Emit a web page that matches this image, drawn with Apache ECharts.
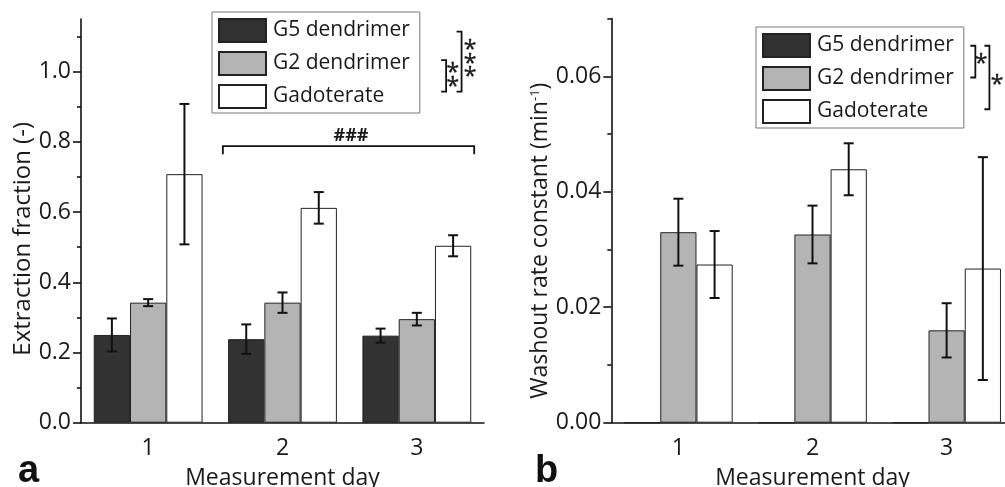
<!DOCTYPE html>
<html><head><meta charset="utf-8">
<script src="https://cdn.jsdelivr.net/npm/echarts@6/dist/echarts.min.js"></script>
<style>html,body{margin:0;padding:0;background:#fff}#c{width:1005px;height:487px}</style>
</head><body><div id="c"></div>
<script>
// ---------- data ----------
const days = ['1', '2', '3'];
const seriesNames = ['G5 dendrimer', 'G2 dendrimer', 'Gadoterate'];
// Panel a: extraction fraction (-)
const efG5 = [0.250, 0.238, 0.248];
const efG5Err = [0.047, 0.042, 0.020];
const efG2 = [0.342, 0.342, 0.295];
const efG2Err = [0.010, 0.029, 0.018];
const efGado = [0.708, 0.612, 0.504];
const efGadoErr = [0.200, 0.045, 0.030];
// Panel b: washout rate constant (min^-1)
const wrG5 = [0, 0, 0];
const wrG2 = [0.0330, 0.0326, 0.0160];
const wrG2Err = [0.0058, 0.0050, 0.0047];
const wrGado = [0.0274, 0.0439, 0.0267];
const wrGadoErr = [0.0058, 0.0045, 0.0193];
// tick values
const efTicks = [0, 0.2, 0.4, 0.6, 0.8, 1.0];
const efMinor = [0.1, 0.3, 0.5, 0.7, 0.9, 1.1];
const wrTicks = [0, 0.02, 0.04, 0.06];
const wrMinor = [0.01, 0.03, 0.05, 0.07];

// ---------- style ----------
const FONT = 'Open Sans';
const TXT = '#1a1a1a';
const colors = ['#323232', '#b4b4b4', '#ffffff'];
const BARGAP = '19%';
const BARFRAC = 0.81 / 3;

const chart = echarts.init(document.getElementById('c'), null, {renderer: 'canvas'});

function errRender(pos) {
  return function (params, api) {
    const i = api.value(0), v = api.value(1), e = api.value(2);
    const band = api.size([1, 0])[0];
    const off = (pos - 1) * band * BARFRAC;
    const t = api.coord([i, v + e]), b = api.coord([i, v - e]);
    const x = t[0] + off, cap = 5;
    const st = {stroke: '#111', lineWidth: 2};
    return {type: 'group', children: [
      {type: 'line', shape: {x1: x, y1: t[1], x2: x, y2: b[1]}, style: st},
      {type: 'line', shape: {x1: x - cap, y1: t[1], x2: x + cap, y2: t[1]}, style: st},
      {type: 'line', shape: {x1: x - cap, y1: b[1], x2: x + cap, y2: b[1]}, style: st}
    ]};
  };
}
function errData(vals, errs) { return vals.map((v, i) => [i, v, errs[i]]); }

function mainX(grid) {
  return {
    gridIndex: grid, type: 'category', data: days, position: 'bottom',
    axisLine: {onZero: false, lineStyle: {color: '#111', width: 1.6}},
    axisTick: {alignWithLabel: true, length: 7, lineStyle: {color: '#111', width: 1.6}},
    axisLabel: {fontFamily: FONT, fontSize: 23, color: TXT, margin: 14},
    name: 'Measurement day', nameLocation: 'middle', nameGap: 44,
    nameTextStyle: {fontFamily: FONT, fontSize: 23, color: TXT}
  };
}
function minorX(grid) {
  return {
    gridIndex: grid, type: 'category', data: days, position: 'bottom',
    axisLine: {show: false, onZero: false}, axisTick: {length: 4, lineStyle: {color: '#111', width: 1.6}},
    axisLabel: {show: false}
  };
}
function mainY(grid, max, ticks, dec, name, gap, shift, fs, rich) {
  return {
    gridIndex: grid, type: 'value', min: 0, max: max, position: 'left',
    axisLine: {show: true, lineStyle: {color: '#111', width: 1.6}},
    axisTick: {show: true, length: 8, customValues: ticks, lineStyle: {color: '#111', width: 1.6}},
    axisLabel: {customValues: ticks, formatter: v => v.toFixed(dec), fontFamily: FONT, fontSize: 23, color: TXT, margin: 10},
    splitLine: {show: false},
    name: name, nameLocation: 'middle', nameGap: gap,
    nameTextStyle: {fontFamily: FONT, fontSize: fs, color: TXT, rich: rich, padding: [0, shift, 0, 0]}
  };
}
function minorY(grid, max, ticks) {
  return {
    gridIndex: grid, type: 'value', min: 0, max: max, position: 'left',
    axisLine: {show: false}, splitLine: {show: false}, axisLabel: {show: false},
    axisTick: {show: true, length: 4, customValues: ticks, lineStyle: {color: '#111', width: 1.6}}
  };
}
function bar(name, data, xi, yi, ci) {
  return {
    type: 'bar', name: name, data: data, xAxisIndex: xi, yAxisIndex: yi,
    barGap: 0, barCategoryGap: BARGAP,
    itemStyle: {color: colors[ci], borderColor: '#222', borderWidth: 1}
  };
}
function err(name, vals, errs, xi, yi, pos) {
  return {
    type: 'custom', name: name, xAxisIndex: xi, yAxisIndex: yi, z: 5,
    renderItem: errRender(pos), data: errData(vals, errs), clip: false, silent: true
  };
}
function legend(left, top) {
  return {
    data: seriesNames, orient: 'vertical', left: left, top: top, icon: 'rect',
    itemWidth: 47, itemHeight: 23, itemGap: 8, padding: [6, 10, 4, 6],
    borderColor: '#777', borderWidth: 1, selectedMode: false,
    textStyle: {fontFamily: FONT, fontSize: 21, color: TXT, padding: [0, 0, 0, 2]}
  };
}

chart.setOption({
  animation: false,
  backgroundColor: '#fff',
  grid: [
    {left: 81, top: 19, width: 403, height: 403.7, containLabel: false, outerBoundsMode: 'none'},
    {left: 611.3, top: 18.6, width: 402.4, height: 404.1, containLabel: false, outerBoundsMode: 'none'}
  ],
  xAxis: [mainX(0), minorX(0), mainX(1), minorX(1)],
  yAxis: [
    mainY(0, 1.15, efTicks, 1, 'Extraction fraction (-)', 43, 36, 24),
    minorY(0, 1.15, efMinor),
    mainY(1, 0.07, wrTicks, 2, 'Washout rate constant (min{sup|-1})', 56, 40, 23,
      {sup: {fontFamily: FONT, fontSize: 13, color: TXT, verticalAlign: 'top'}}),
    minorY(1, 0.07, wrMinor)
  ],
  legend: [legend(212, 12), legend(756, 27)],
  series: [
    bar(seriesNames[0], efG5, 0, 0, 0),
    bar(seriesNames[1], efG2, 0, 0, 1),
    bar(seriesNames[2], efGado, 0, 0, 2),
    err('efErrG5', efG5, efG5Err, 0, 0, 0),
    err('efErrG2', efG2, efG2Err, 0, 0, 1),
    err('efErrGado', efGado, efGadoErr, 0, 0, 2),
    bar(seriesNames[0], wrG5, 2, 2, 0),
    bar(seriesNames[1], wrG2, 2, 2, 1),
    bar(seriesNames[2], wrGado, 2, 2, 2),
    err('wrErrG2', wrG2, wrG2Err, 2, 2, 1),
    err('wrErrGado', wrGado, wrGadoErr, 2, 2, 2)
  ]
});

// ---------- annotations (in axis units: category index, value) ----------
const annA = {
  hashBracket: {x1: 0.556, x2: 2.427, y: 0.788, yLeg: 0.765, textX: 1.51, textY: 0.817},
  brackets: [
    {x: 2.218, y1: 1.033, y2: 0.943, stars: [[2.268, 1.005], [2.268, 0.967]]},
    {x: 2.333, y1: 1.114, y2: 0.943, stars: [[2.397, 1.071], [2.397, 1.031], [2.397, 0.995]]}
  ]
};
const annB = {
  brackets: [
    {x: 2.214, y1: 0.0653, y2: 0.0598, stars: [[2.257, 0.0628]]},
    {x: 2.319, y1: 0.0653, y2: 0.0543, stars: [[2.376, 0.0591]]}
  ]
};
function px(g, xi, yv) {
  const f = {xAxisIndex: g * 2, yAxisIndex: g * 2};
  const a = chart.convertToPixel(f, [0, yv]);
  const b = chart.convertToPixel(f, [1, yv]);
  return [a[0] + (b[0] - a[0]) * xi, a[1]];
}
const LS = {stroke: '#111', lineWidth: 1.8, fill: null};
const els = [];
function addBrackets(g, list) {
  list.forEach(br => {
    const t = px(g, br.x, br.y1), b = px(g, br.x, br.y2);
    els.push({type: 'polyline', shape: {points: [[t[0] - 5, t[1]], [t[0], t[1]], [b[0], b[1]], [b[0] - 5, b[1]]]}, style: LS});
    br.stars.forEach(s => {
      const p = px(g, s[0], s[1]);
      els.push({type: 'text', x: p[0], y: p[1] + 4, style: {text: '*', fontFamily: FONT, fontSize: 23, fill: TXT, align: 'center', verticalAlign: 'middle', stroke: TXT, lineWidth: 0.4}});
    });
  });
}
const hb = annA.hashBracket;
const h1 = px(0, hb.x1, hb.y), h2 = px(0, hb.x2, hb.y), hl = px(0, hb.x1, hb.yLeg);
els.push({type: 'polyline', shape: {points: [[h1[0], hl[1]], h1, h2, [h2[0], hl[1]]]}, style: LS});
const ht = px(0, hb.textX, hb.textY);
els.push({type: 'text', x: ht[0], y: ht[1], style: {text: '###', fontFamily: FONT, fontWeight: 'bold', fontSize: 18, fill: TXT, align: 'center', verticalAlign: 'middle'}});
addBrackets(0, annA.brackets);
addBrackets(1, annB.brackets);
els.push({type: 'text', x: 18, y: 491, style: {text: 'a', fontFamily: 'Liberation Sans', fontWeight: 'bold', fontSize: 38, fill: '#111', align: 'left', verticalAlign: 'bottom'}});
els.push({type: 'text', x: 535, y: 491, style: {text: 'b', fontFamily: 'Liberation Sans', fontWeight: 'bold', fontSize: 38, fill: '#111', align: 'left', verticalAlign: 'bottom'}});
chart.setOption({graphic: {elements: els}});
</script>
</body></html>
